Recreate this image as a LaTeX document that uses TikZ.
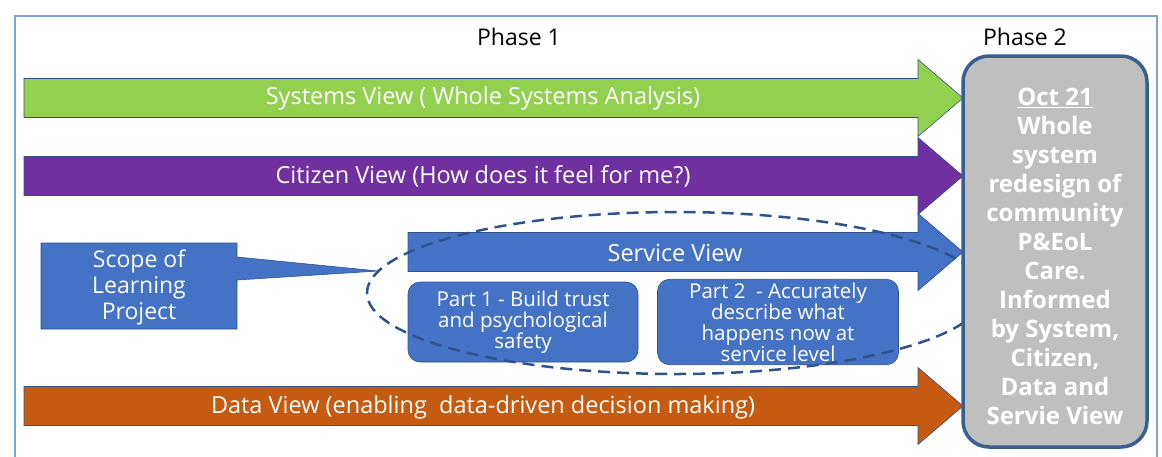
\documentclass[tikz,border=0pt]{standalone}
\usepackage{fontspec}
\setmainfont{Open Sans}
\usetikzlibrary{positioning}

\definecolor{sysgreen}{HTML}{92D050}
\definecolor{citpurple}{HTML}{7030A0}
\definecolor{svcblue}{HTML}{4472C4}
\definecolor{dataorange}{HTML}{C55A11}
\definecolor{edgeblue}{HTML}{2F528F}
\definecolor{framecol}{HTML}{7EA3D8}
\definecolor{phasegray}{HTML}{BFBFBF}
\definecolor{phaseedge}{HTML}{3A5E8E}

\tikzset{
  arrowbody/.style={draw=edgeblue, line width=0.6pt},
  viewtext/.style={text=white, font=\fontsize{23.5}{28}\selectfont},
  partbox/.style={draw=edgeblue, fill=svcblue, rounded corners=12pt, line width=0.6pt,
    text=white, align=center, font=\fontsize{20.5}{21}\selectfont},
  phaselabel/.style={font=\fontsize{23}{27}\selectfont}
}

% one coloured view arrow: fill, left end, middle height
\newcommand{\viewarrow}[3]{%
  \draw[arrowbody, fill=#1] (#2,#3-19.5) -- (918,#3-19.5) -- (918,#3-38.5) --
    (963,#3) -- (918,#3+38.5) -- (918,#3+19.5) -- (#2,#3+19.5) -- cycle;}

\begin{document}
\begin{tikzpicture}[x=1pt, y=-1pt]
        \useasboundingbox (0,0) rectangle (1162,456);

        % outer frame, open at the bottom
        \draw[framecol, line width=1.5pt] (15,470) -- (15,16) -- (1157,16) -- (1157,470);

        \node[phaselabel] (phase1) at (519,37) {Phase 1};
        \node[phaselabel] (phase2) at (1025,37) {Phase 2};

        % the four views
        \viewarrow{sysgreen}{24}{98}
        \viewarrow{citpurple}{24}{176}
        \viewarrow{svcblue}{408}{252}
        \viewarrow{dataorange}{24}{406}

        \node[viewtext] (systxt) at (483,98) {Systems View ( Whole Systems Analysis)};
        \node[viewtext] (cittxt) at (483,176) {Citizen View (How does it feel for me?)};
        \node[viewtext] (svctxt) at (675,253) {Service View};
        \node[viewtext] (datatxt) at (483,407) {Data View (enabling\ \ data-driven decision making)};

        % callout for the learning project
        \coordinate (scopetip) at (378,271);
        \draw[arrowbody, fill=svcblue] (41,243) -- (237,243) -- (237,257) -- (scopetip) --
        (237,280) -- (237,329) -- (41,329) -- cycle;
        \node[viewtext, align=center, font=\fontsize{23}{26}\selectfont] (scope) at (139,287)
            {Scope of\\Learning\\Project};

        % parts of the service view
        \node[partbox, minimum width=230pt, minimum height=80pt] (part1) at (523,322)
            {Part 1 - Build trust\\and psychological\\safety};
        \node[partbox, minimum width=241pt, minimum height=80pt] (part2) at (778,322)
            {Part 2\ \ - Accurately\\describe what\\happens now at\\service level};

        \draw[edgeblue, line width=2.5pt, dash pattern=on 12pt off 7pt]
            (676,293) ellipse [x radius=309, y radius=81];

        % phase 2 outcome
        \draw[phaseedge, fill=phasegray, line width=3.5pt, rounded corners=26pt]
            (963,56) rectangle (1147,447);
        \node[text=white, align=center, font=\bfseries\fontsize{24}{29}\selectfont]
            (redesign) at (1055,256)
            {\underline{Oct 21}\\Whole\\system\\redesign of\\community\\P\&EoL\\Care.\\Informed\\by System,\\Citizen,\\Data and\\Servie View};
    \end{tikzpicture}
\end{document}
